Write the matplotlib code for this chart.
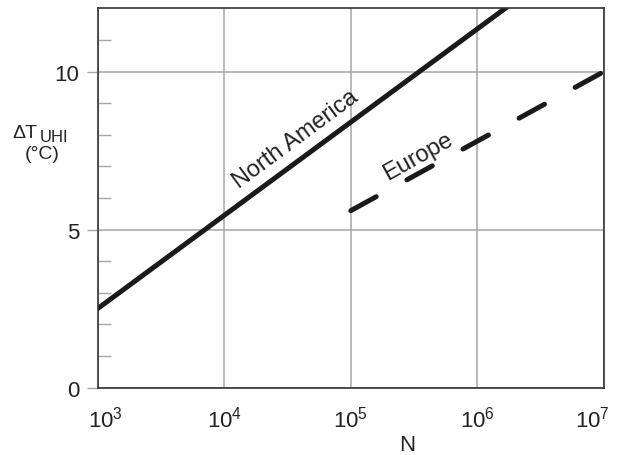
import matplotlib
matplotlib.use("Agg")
import matplotlib.pyplot as plt
from matplotlib.transforms import ScaledTranslation
import numpy as np

# ---- data ----
na_N = [1e3, 1e7]
na_T = [2.5, 14.3]
eu_N = [1e5, 1e7]
eu_T = [5.6, 10.0]
xticks = [1e3, 1e4, 1e5, 1e6, 1e7]
xticklabels = ["$10^{3}$", "$10^{4}$", "$10^{5}$", "$10^{6}$", "$10^{7}$"]
yticks = [0, 5, 10]
yminor = [1, 2, 3, 4, 6, 7, 8, 9, 11]

plt.rcParams['font.family'] = ['Liberation Sans', 'DejaVu Sans']
plt.rcParams['mathtext.fontset'] = 'custom'
plt.rcParams['mathtext.rm'] = 'Liberation Sans'
plt.rcParams['mathtext.it'] = 'Liberation Sans:italic'
plt.rcParams['mathtext.bf'] = 'Liberation Sans:bold'

fig = plt.figure(figsize=(6.27, 4.56), dpi=100)
ax = fig.add_axes([97.6/627, 1-388.7/456, (604-97.6)/627, (388.7-9.3)/456])

ax.set_xscale('log')
ax.set_xlim(1e3, 1e7)
ax.set_ylim(0, 12)

grid_c = '#a6a6a6'
ax.set_xticks(xticks)
ax.set_xticklabels(xticklabels)
ax.xaxis.set_minor_locator(matplotlib.ticker.NullLocator())
ax.set_yticks(yticks)
ax.set_yticks(yminor, minor=True)
ax.grid(True, which='major', color=grid_c, linewidth=1.1)
ax.tick_params(axis='x', which='major', length=0, pad=13, labelsize=16, colors='#222222')
ax.tick_params(axis='y', which='major', direction='out', length=8, width=1.0,
               color=grid_c, pad=5, labelsize=16, labelcolor='#222222')
ax.tick_params(axis='y', which='minor', direction='in', length=9, width=1.0, color=grid_c)

for s in ax.spines.values():
    s.set_color('#333333')
    s.set_linewidth(1.2)
ax.set_axisbelow(True)

ax.plot(na_N, na_T, color='#1a1a1a', lw=3.6, solid_capstyle='round')
ax.plot(eu_N, eu_T, color='#1a1a1a', lw=3.6, dash_capstyle='round',
        dashes=(5.8, 7.0))

ax.text(10**4.566, 7.87, "North America", rotation=36.5, rotation_mode='anchor',
        ha='center', va='center', fontsize=17, color='#222222')
ax.text(10**5.529, 7.33, "Europe", rotation=29, rotation_mode='anchor',
        ha='center', va='center', fontsize=17, color='#222222')

# shift end tick labels inward
labs = ax.get_xticklabels()
labs[0].set_transform(labs[0].get_transform() + ScaledTranslation(8/100, 0, fig.dpi_scale_trans))
labs[-1].set_transform(labs[-1].get_transform() + ScaledTranslation(-12/100, 0, fig.dpi_scale_trans))

# axis labels
fig.text(407/627, 1-451/456, "N", ha='center', va='baseline', fontsize=16, color='#222222')
fig.text(12/627, 1-138/456, "ΔT", ha='left', va='baseline', fontsize=14, color='#222222')
fig.text(40/627, 1-142/456, "UHI", ha='left', va='baseline', fontsize=12, color='#222222')
fig.text(42/627, 1-159/456, "(°C)", ha='center', va='baseline', fontsize=14, color='#222222')

fig.savefig("out.png", dpi=100)
